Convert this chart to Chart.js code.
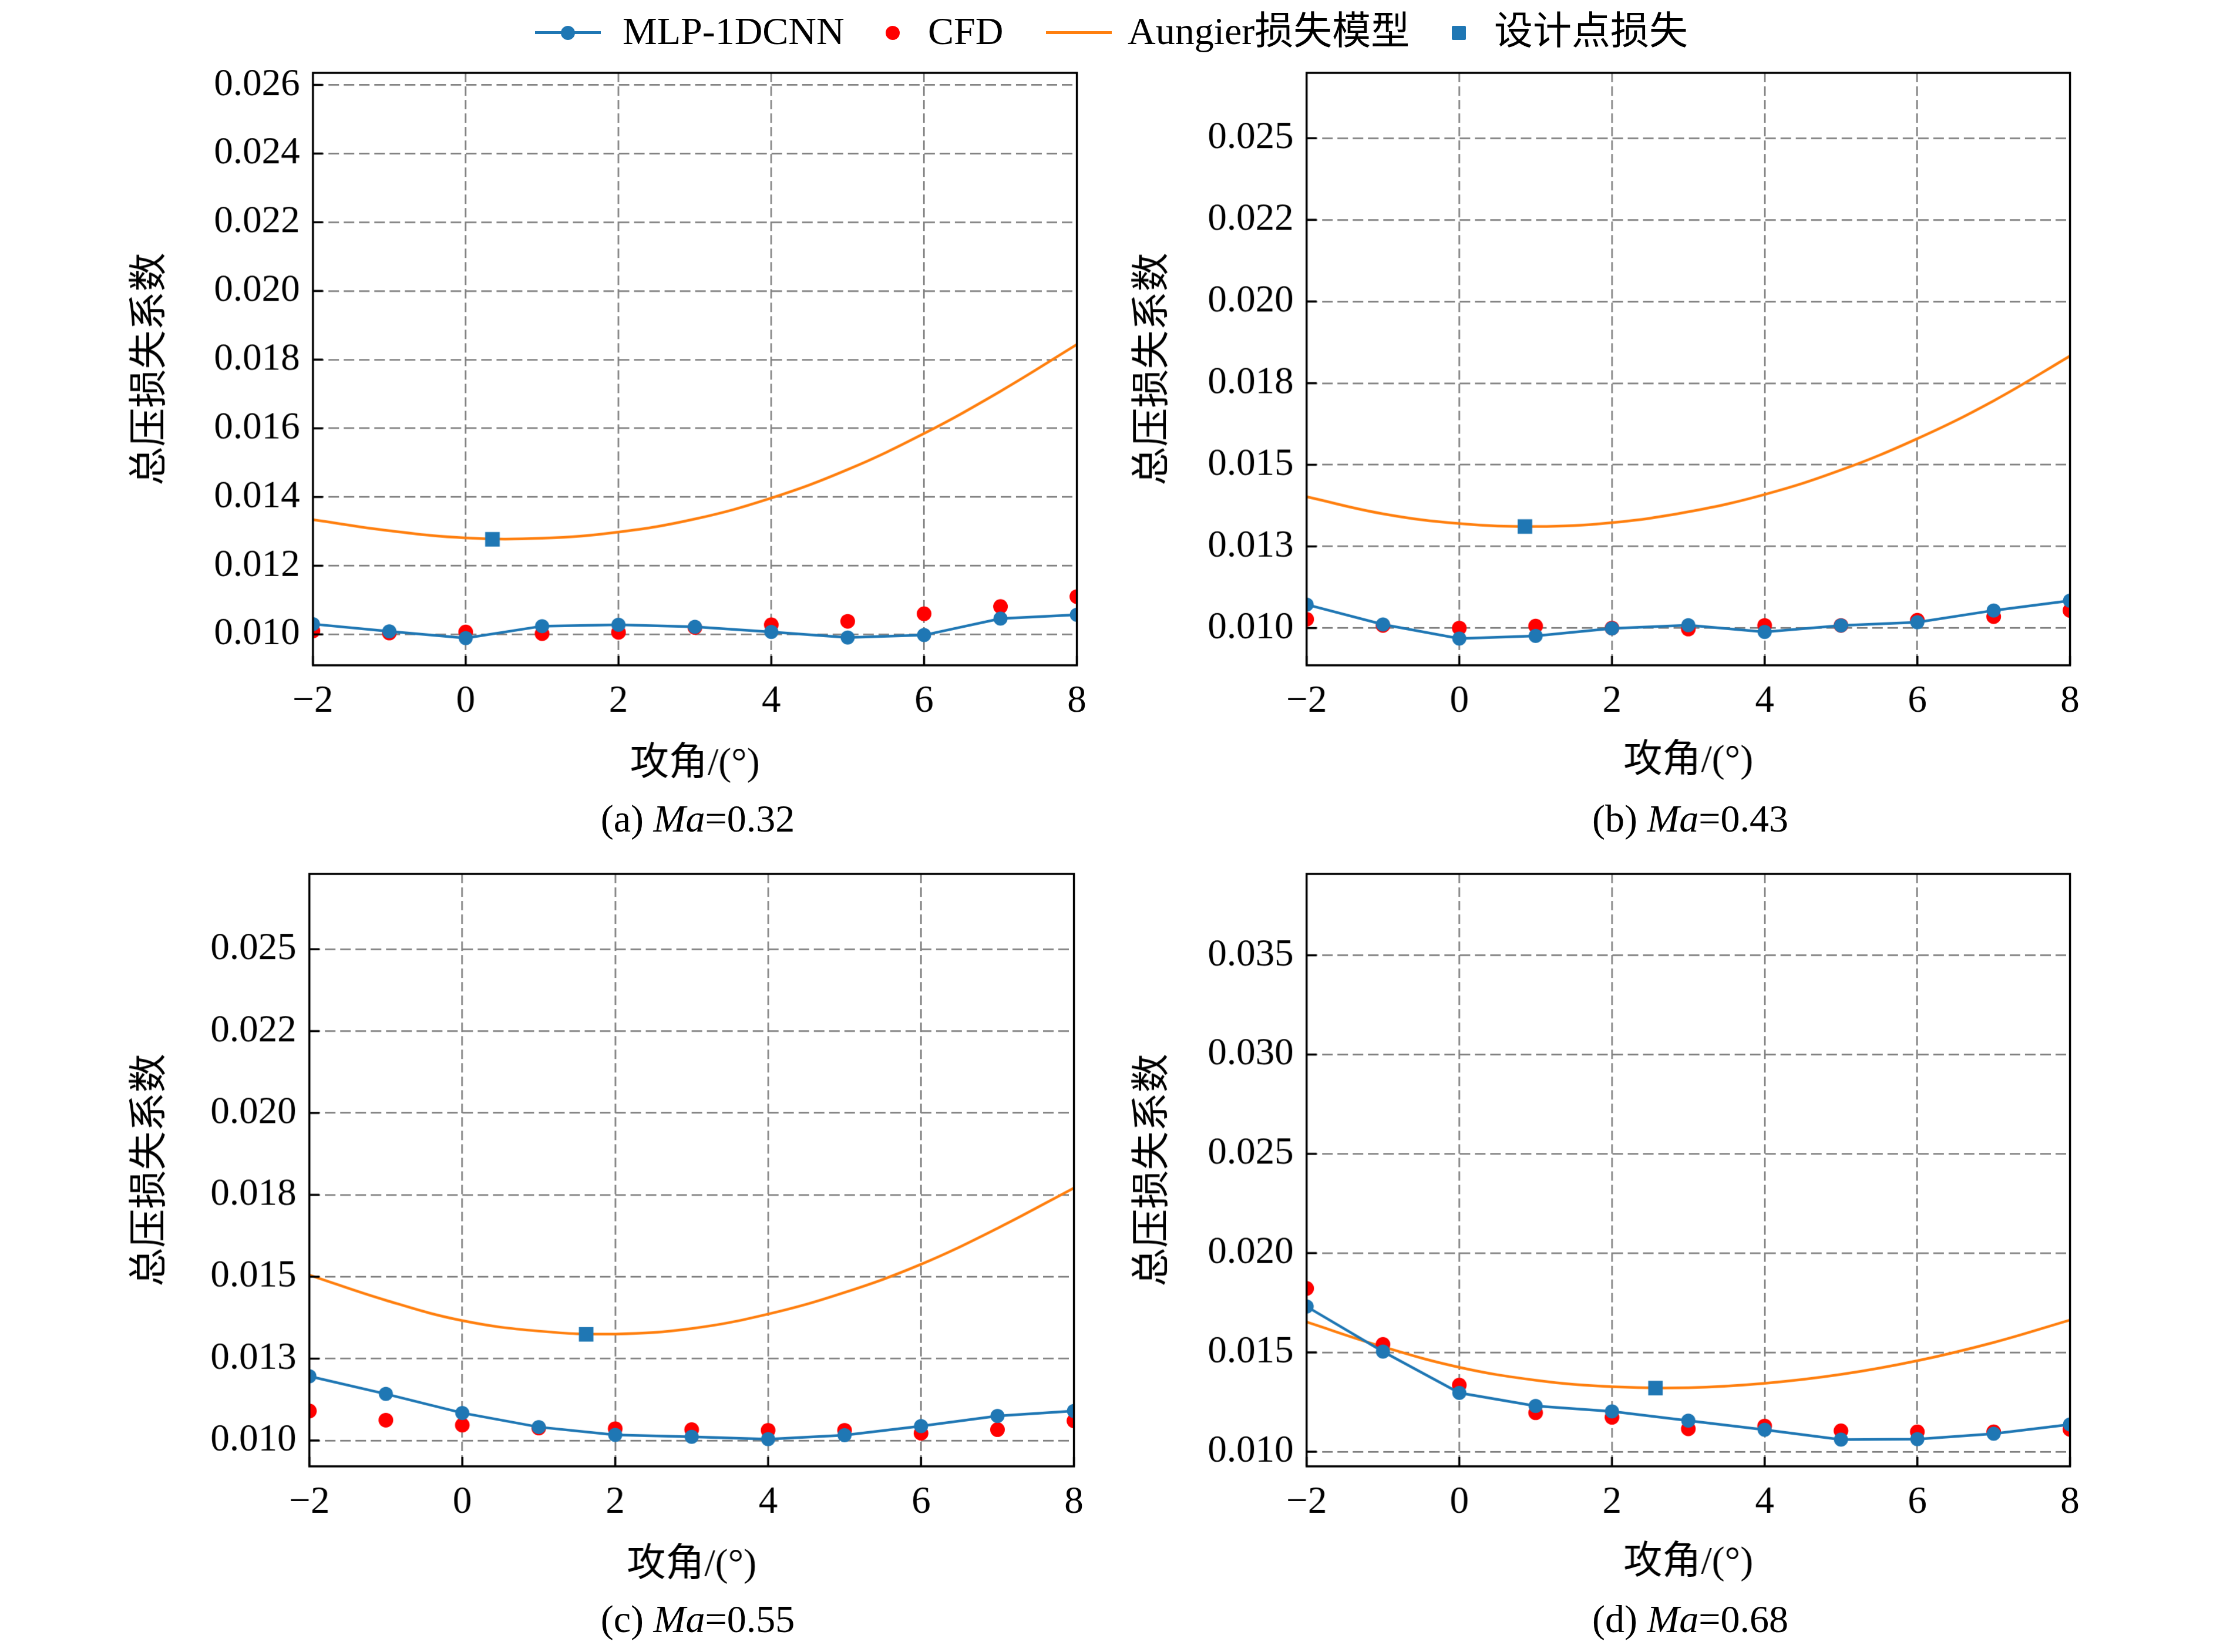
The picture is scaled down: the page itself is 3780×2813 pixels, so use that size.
<!DOCTYPE html>
<html>
<head>
<meta charset="utf-8">
<script src="https://cdn.jsdelivr.net/npm/chart.js@4.4.1/dist/chart.umd.min.js"></script>
<style>
  body { margin: 0; background: #fff; }
  #fig { position: relative; width: 3780px; height: 2813px; overflow: hidden; background: #fff;
         font-family: 'Liberation Serif', 'Noto Sans CJK SC', serif; color: #000; }
  .box { position: absolute; }
  .txt { position: absolute; font-size: 66px; line-height: 66px; white-space: nowrap; }
  .cap { position: absolute; font-size: 66px; line-height: 66px; width: 900px; text-align: center; white-space: nowrap; }
  .hline { position: absolute; height: 5px; }
  .dot { position: absolute; width: 24px; height: 24px; border-radius: 50%; }
  .sq { position: absolute; width: 24px; height: 24px; border-radius: 2px; }
</style>
</head>
<body>
<div id="fig">
  <!-- legend -->
  <div class="hline" style="left:911px;top:53px;width:112px;background:#1f77b4"></div>
  <div class="dot" style="left:955px;top:44px;background:#1f77b4"></div>
  <div class="txt" style="left:1060px;top:20px">MLP-1DCNN</div>
  <div class="dot" style="left:1508px;top:44px;background:#ff0000"></div>
  <div class="txt" style="left:1580px;top:20px">CFD</div>
  <div class="hline" style="left:1781px;top:53px;width:112px;background:#ff7f0e"></div>
  <div class="txt" style="left:1920px;top:20px">Aungier损失模型</div>
  <div class="sq" style="left:2472px;top:44px;background:#1f77b4"></div>
  <div class="txt" style="left:2544px;top:20px">设计点损失</div>

  <div class="box" id="chartA"></div>
  <div class="box" id="chartB"></div>
  <div class="box" id="chartC"></div>
  <div class="box" id="chartD"></div>

  <div class="cap" style="left:738px;top:1361px">(a) <i>Ma</i>=0.32</div>
  <div class="cap" style="left:2428px;top:1361px">(b) <i>Ma</i>=0.43</div>
  <div class="cap" style="left:738px;top:2724px">(c) <i>Ma</i>=0.55</div>
  <div class="cap" style="left:2428px;top:2724px">(d) <i>Ma</i>=0.68</div>
</div>
<script>
// angle of attack (deg)
const angles = [-2, -1, 0, 1, 2, 3, 4, 5, 6, 7, 8];
const xTickVals = [-2, 0, 2, 4, 6, 8];
const xTickLabels = ['\u22122', '0', '2', '4', '6', '8'];

// (a) Ma=0.32
const mlpA = [0.01030, 0.01009, 0.00989, 0.01024, 0.01028, 0.01022, 0.01007, 0.00991, 0.00998, 0.01046, 0.01057];
const cfdA = [0.01010, 0.01004, 0.01007, 0.01002, 0.01006, 0.01020, 0.01028, 0.01038, 0.01060, 0.01081, 0.01110];
const aungierA = [0.01334, 0.01302, 0.01281, 0.01280, 0.01298, 0.01336, 0.01397, 0.01480, 0.01585, 0.01708, 0.01844];
const designA = [0.35, 0.01277];
const yTickValsA = [0.010, 0.012, 0.014, 0.016, 0.018, 0.020, 0.022, 0.024, 0.026];
const yTickLabelsA = ['0.010', '0.012', '0.014', '0.016', '0.018', '0.020', '0.022', '0.024', '0.026'];

// (b) Ma=0.43
const mlpB = [0.01072, 0.01011, 0.00968, 0.00976, 0.00999, 0.01009, 0.00988, 0.01008, 0.01018, 0.01054, 0.01084];
const cfdB = [0.01027, 0.01008, 0.01000, 0.01006, 0.01000, 0.00997, 0.01008, 0.01008, 0.01024, 0.01035, 0.01054];
const aungierB = [0.01402, 0.01350, 0.01320, 0.01311, 0.01323, 0.01356, 0.01409, 0.01484, 0.01580, 0.01696, 0.01833];
const designB = [0.86, 0.01311];

// (c) Ma=0.55
const mlpC = [0.01196, 0.01142, 0.01084, 0.01041, 0.01017, 0.01011, 0.01004, 0.01016, 0.01044, 0.01075, 0.01090];
const cfdC = [0.01090, 0.01062, 0.01047, 0.01038, 0.01036, 0.01033, 0.01031, 0.01031, 0.01022, 0.01033, 0.01060];
const aungierC = [0.01505, 0.01428, 0.01366, 0.01334, 0.01325, 0.01342, 0.01386, 0.01452, 0.01538, 0.01648, 0.01771];
const designC = [1.62, 0.01324];
const yTickVals25 = [0.0100, 0.0125, 0.0150, 0.0175, 0.0200, 0.0225, 0.0250];
const yTickLabels25 = ['0.010', '0.013', '0.015', '0.018', '0.020', '0.022', '0.025'];

// (d) Ma=0.68
const mlpD = [0.01731, 0.01504, 0.01296, 0.01230, 0.01203, 0.01156, 0.01110, 0.01061, 0.01063, 0.01090, 0.01137];
const cfdD = [0.01822, 0.01540, 0.01335, 0.01196, 0.01173, 0.01115, 0.01129, 0.01105, 0.01100, 0.01100, 0.01112];
const aungierD = [0.01653, 0.01528, 0.01425, 0.01360, 0.01327, 0.01322, 0.01344, 0.01389, 0.01458, 0.01550, 0.01663];
const designD = [2.57, 0.01320];
const yTickValsD = [0.010, 0.015, 0.020, 0.025, 0.030, 0.035];
const yTickLabelsD = ['0.010', '0.015', '0.020', '0.025', '0.030', '0.035'];

const BLUE = '#1f77b4';
const RED = '#ff0000';
const ORANGE = '#ff7f0e';
const GRID = '#808080';
const FONT = "'Liberation Serif', 'Noto Sans CJK SC', serif";

const pts = (vals) => angles.map((a, i) => ({ x: a, y: vals[i] }));

// black box round the plot area, ticks pointing inward
const framePlugin = {
  id: 'frame',
  afterDraw(chart) {
    const { ctx, chartArea: a, scales: { x, y } } = chart;
    ctx.save();
    ctx.strokeStyle = '#000';
    ctx.lineWidth = 3.5;
    x.ticks.forEach(t => {
      const px = x.getPixelForValue(t.value);
      ctx.beginPath(); ctx.moveTo(px, a.bottom); ctx.lineTo(px, a.bottom - 16); ctx.stroke();
    });
    y.ticks.forEach(t => {
      const py = y.getPixelForValue(t.value);
      ctx.beginPath(); ctx.moveTo(a.left, py); ctx.lineTo(a.left + 17, py); ctx.stroke();
    });
    ctx.strokeRect(a.left, a.top, a.right - a.left, a.bottom - a.top);
    ctx.restore();
  }
};

function makeChart(id, s) {
  const [fl, ft, fr, fb] = s.frame;
  const left = s.yTitleX - 39.6, top = ft - 60, right = fr + 50, bottom = s.xTitleY + 39.6;
  const box = document.getElementById(id);
  box.style.left = left + 'px';
  box.style.top = top + 'px';
  box.style.width = (right - left) + 'px';
  box.style.height = (bottom - top) + 'px';
  const canvas = document.createElement('canvas');
  box.appendChild(canvas);

  const zeroPad = sc => { sc.paddingLeft = 0; sc.paddingRight = 0; sc.paddingTop = 0; sc.paddingBottom = 0; };

  new Chart(canvas, {
    type: 'line',
    data: {
      datasets: [
        { label: '设计点损失', data: [{ x: s.design[0], y: s.design[1] }], showLine: false,
          pointStyle: 'rect', pointRadius: 17.5, backgroundColor: BLUE, borderColor: BLUE, pointBorderWidth: 0 },
        { label: 'MLP-1DCNN', data: pts(s.mlp), borderColor: BLUE, backgroundColor: BLUE,
          borderWidth: 4.5, pointRadius: 12, pointBorderWidth: 0, tension: 0 },
        { label: 'CFD', data: pts(s.cfd), showLine: false, pointRadius: 12.5,
          backgroundColor: RED, borderColor: RED, pointBorderWidth: 0 },
        { label: 'Aungier损失模型', data: pts(s.aungier), borderColor: ORANGE,
          borderWidth: 4.5, pointRadius: 0, tension: 0.4 }
      ]
    },
    options: {
      responsive: true,
      maintainAspectRatio: false,
      animation: false,
      devicePixelRatio: 1,
      layout: { padding: { left: 0, top: 60, right: 50, bottom: 0 } },
      plugins: { legend: { display: false }, tooltip: { enabled: false } },
      scales: {
        x: {
          type: 'linear', min: -2, max: 8,
          afterBuildTicks: sc => { sc.ticks = xTickVals.map(v => ({ value: v })); },
          afterFit: sc => { sc.height = bottom - fb; zeroPad(sc); },
          grid: { color: GRID, lineWidth: 2.7, drawTicks: false },
          border: { display: false, dash: [16, 7] },
          ticks: { color: '#000', padding: 23, maxRotation: 0, autoSkip: false,
                   font: { family: FONT, size: 65 }, callback: (v, i) => xTickLabels[i] },
          title: { display: true, text: '攻角/(°)', color: '#000', padding: 0,
                   font: { family: FONT, size: 66 } }
        },
        y: {
          type: 'linear', min: s.yMin, max: s.yMax,
          afterBuildTicks: sc => { sc.ticks = s.yTicks.map(v => ({ value: v })); },
          afterFit: sc => { sc.width = fl - left; zeroPad(sc); },
          grid: { color: GRID, lineWidth: 2.7, drawTicks: false },
          border: { display: false, dash: [18, 8] },
          ticks: { color: '#000', padding: 22, autoSkip: false,
                   font: { family: FONT, size: 65 }, callback: (v, i) => s.yLabels[i] },
          title: { display: true, text: '总压损失系数', color: '#000', padding: 0,
                   font: { family: FONT, size: 66 } }
        }
      }
    },
    plugins: [framePlugin]
  });
}

makeChart('chartA', { frame: [533, 124, 1833, 1132], yTitleX: 258, xTitleY: 1301,
  mlp: mlpA, cfd: cfdA, aungier: aungierA, design: designA,
  yMin: 0.0091, yMax: 0.02635, yTicks: yTickValsA, yLabels: yTickLabelsA });
makeChart('chartB', { frame: [2225, 124, 3524, 1132], yTitleX: 1965, xTitleY: 1296,
  mlp: mlpB, cfd: cfdB, aungier: aungierB, design: designB,
  yMin: 0.00886, yMax: 0.0270, yTicks: yTickVals25, yLabels: yTickLabels25 });
makeChart('chartC', { frame: [527, 1488, 1828, 2496], yTitleX: 258, xTitleY: 2665,
  mlp: mlpC, cfd: cfdC, aungier: aungierC, design: designC,
  yMin: 0.00921, yMax: 0.0273, yTicks: yTickVals25, yLabels: yTickLabels25 });
makeChart('chartD', { frame: [2225, 1488, 3524, 2496], yTitleX: 1965, xTitleY: 2661,
  mlp: mlpD, cfd: cfdD, aungier: aungierD, design: designD,
  yMin: 0.00926, yMax: 0.0391, yTicks: yTickValsD, yLabels: yTickLabelsD });
</script>
</body>
</html>
